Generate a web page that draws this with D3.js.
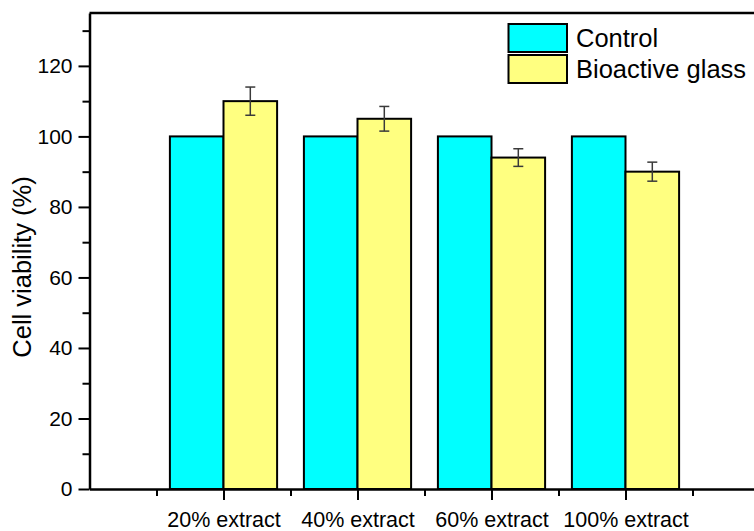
<!DOCTYPE html>
<html>
<head>
<meta charset="utf-8">
<script src="https://cdn.jsdelivr.net/npm/d3@7/dist/d3.min.js"></script>
<style>
  html, body { margin: 0; padding: 0; background: #fff; }
  svg { display: block; }
  text { font-family: "Liberation Sans", Arial, sans-serif; fill: #000; }
</style>
</head>
<body>
<svg id="chart" width="754" height="531"></svg>
<script>
// Cell viability of extracts, control vs bioactive glass
const categories = ["20% extract", "40% extract", "60% extract", "100% extract"];
const seriesNames = ["Control", "Bioactive glass"];
const controlValues = [100, 100, 100, 100];
const glassValues = [110, 105, 94, 90];
const glassErrors = [4, 3.5, 2.5, 2.7];
const yTicks = [0, 20, 40, 60, 80, 100, 120];
const yMinorTicks = [10, 30, 50, 70, 90, 110, 130];
const colors = ["#00FFFF", "#FFFF80"];

const svg = d3.select("#chart");
const W = 754;
const plotLeft = 89.5, plotTop = 13, plotBottom = 489;

// categories sit at 1..4 on a continuous axis running 0..5
const x = d3.scaleLinear().domain([0, 5]).range([plotLeft, plotLeft + 5 * 134]);
const y = d3.scaleLinear().domain([0, 135]).range([plotBottom, plotTop]);
const barW = 0.4;
const pos = i => i + 1;

// bars
const bars = [];
categories.forEach((c, i) => {
  bars.push({ s: 0, i, v: controlValues[i] });
  bars.push({ s: 1, i, v: glassValues[i] });
});
svg.append("g").selectAll("rect").data(bars).join("rect")
  .attr("x", d => d.s === 0 ? x(pos(d.i) - barW) : x(pos(d.i)))
  .attr("width", x(barW) - x(0))
  .attr("y", d => y(d.v))
  .attr("height", d => y(0) - y(d.v))
  .attr("fill", d => colors[d.s])
  .attr("stroke", "#000")
  .attr("stroke-width", 2);

// error bars on the bioactive glass series
const eg = svg.append("g").attr("stroke", "#3a3a3a").attr("stroke-width", 1.5).attr("fill", "none");
glassValues.forEach((v, i) => {
  const cx = x(pos(i) + barW / 2);
  const e = glassErrors[i];
  eg.append("line").attr("x1", cx).attr("x2", cx).attr("y1", y(v + e)).attr("y2", y(v - e));
  eg.append("line").attr("x1", cx - 5).attr("x2", cx + 5).attr("y1", y(v + e)).attr("y2", y(v + e));
  eg.append("line").attr("x1", cx - 5).attr("x2", cx + 5).attr("y1", y(v - e)).attr("y2", y(v - e));
});

// top frame line
svg.append("line")
  .attr("x1", plotLeft).attr("x2", W + 10)
  .attr("y1", plotTop).attr("y2", plotTop)
  .attr("stroke", "#000").attr("stroke-width", 2.5);

// y axis
const yAxis = d3.axisLeft(y).tickValues(yTicks).tickSize(11).tickPadding(6).tickSizeOuter(0);
const gy = svg.append("g").attr("transform", `translate(${plotLeft},0)`).call(yAxis);
gy.attr("font-family", null).attr("font-size", null);
gy.select(".domain").attr("stroke-width", 2.5);
gy.selectAll(".tick line").attr("stroke-width", 2);
gy.selectAll(".tick text").style("font-size", "21px");
const gyMinor = svg.append("g").attr("transform", `translate(${plotLeft},0)`)
  .call(d3.axisLeft(y).tickValues(yMinorTicks).tickSize(7).tickFormat("").tickSizeOuter(0));
gyMinor.select(".domain").remove();
gyMinor.selectAll(".tick line").attr("stroke-width", 2);

// x axis
const xAxis = d3.axisBottom(x).tickValues([1, 2, 3, 4]).tickSize(11).tickPadding(12)
  .tickFormat(d => categories[d - 1]).tickSizeOuter(0);
const gx = svg.append("g").attr("transform", `translate(0,${plotBottom})`).call(xAxis);
gx.attr("font-family", null).attr("font-size", null);
gx.select(".domain").attr("stroke-width", 2.5);
gx.selectAll(".tick line").attr("stroke-width", 2);
gx.selectAll(".tick text").style("font-size", "21.5px");
const gxMinor = svg.append("g").attr("transform", `translate(0,${plotBottom})`)
  .call(d3.axisBottom(x).tickValues([0.5, 1.5, 2.5, 3.5, 4.5]).tickSize(7).tickFormat("").tickSizeOuter(0));
gxMinor.select(".domain").remove();
gxMinor.selectAll(".tick line").attr("stroke-width", 2);

// y title
svg.append("text")
  .attr("transform", `translate(31,267) rotate(-90)`)
  .attr("text-anchor", "middle")
  .style("font-size", "25.5px")
  .text("Cell viability (%)");

// legend
const lg = svg.append("g");
seriesNames.forEach((name, i) => {
  const yy = 24 + i * 31;
  lg.append("rect").attr("x", 508.5).attr("y", yy).attr("width", 58.5).attr("height", 28)
    .attr("fill", colors[i]).attr("stroke", "#000").attr("stroke-width", 2);
  lg.append("text").attr("x", 576).attr("y", yy + 22.5)
    .style("font-size", "25.5px").text(name);
});
</script>
</body>
</html>
